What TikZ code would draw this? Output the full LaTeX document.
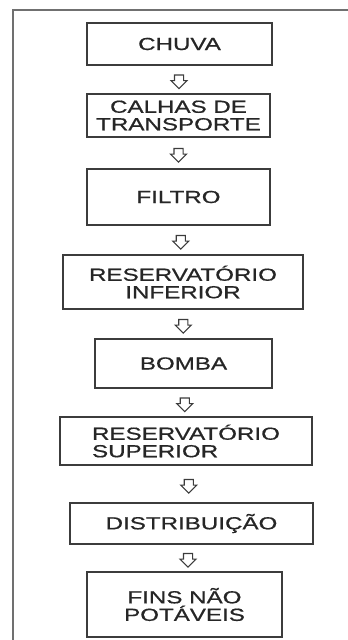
\documentclass[tikz,border=0pt]{standalone}
\usepackage{fontspec}
\newfontfamily\flowfont[FakeStretch=1.38,FakeBold=0.7]{Liberation Sans}
\usetikzlibrary{shapes.arrows,calc}
\definecolor{framegray}{HTML}{707070}
\definecolor{boxgray}{HTML}{3C3C3C}
\tikzset{
    flowbox/.style={draw=boxgray,line width=1.5pt,inner sep=0pt,align=center,
        font=\flowfont\fontsize{17.5}{17.5}\selectfont,text=black!85},
    downarrow/.style={single arrow,draw=boxgray,line width=1.1pt,rotate=-90,
        inner sep=4pt,minimum height=13pt,single arrow head extend=3.5pt}
}
\begin{document}
\begin{tikzpicture}[x=1pt,y=-1pt]
    \useasboundingbox (0,0) rectangle (348,640);
    \draw[framegray,line width=2pt] (13,640) -- (13,10) -- (348,10);
    \node[flowbox,minimum width=185pt,minimum height=42pt] (chuva) at (179.5,44) {CHUVA};
    \node[flowbox,minimum width=183pt,minimum height=43pt] (calhas) at (178.5,115.5) {CALHAS DE\\TRANSPORTE};
    \node[flowbox,minimum width=183pt,minimum height=56pt] (filtro) at (178.5,197) {FILTRO};
    \node[flowbox,minimum width=240pt,minimum height=54pt] (resinf) at (183,282) {RESERVATÓRIO\\INFERIOR};
    \node[flowbox,minimum width=177pt,minimum height=49pt] (bomba) at (183.5,363.5) {BOMBA};
    \node[flowbox,align=left,minimum width=252pt,minimum height=48pt] (ressup) at (186,441) {RESERVATÓRIO\\SUPERIOR};
    \node[flowbox,minimum width=243pt,minimum height=41pt] (distr) at (191.5,523.5) {DISTRIBUIÇÃO};
    \node[flowbox,minimum width=195pt,minimum height=65pt] (fins) at (184.5,604.5) {FINS NÃO\\POTÁVEIS};
    % hollow arrows between the steps
    \foreach \a/\b [count=\i] in {chuva/calhas,calhas/filtro,filtro/resinf,
        resinf/bomba,bomba/ressup,ressup/distr,distr/fins}
    \node[downarrow] (arr\i) at ($(\a.south)!0.5!(\b.north)$) {};
\end{tikzpicture}
\end{document}
